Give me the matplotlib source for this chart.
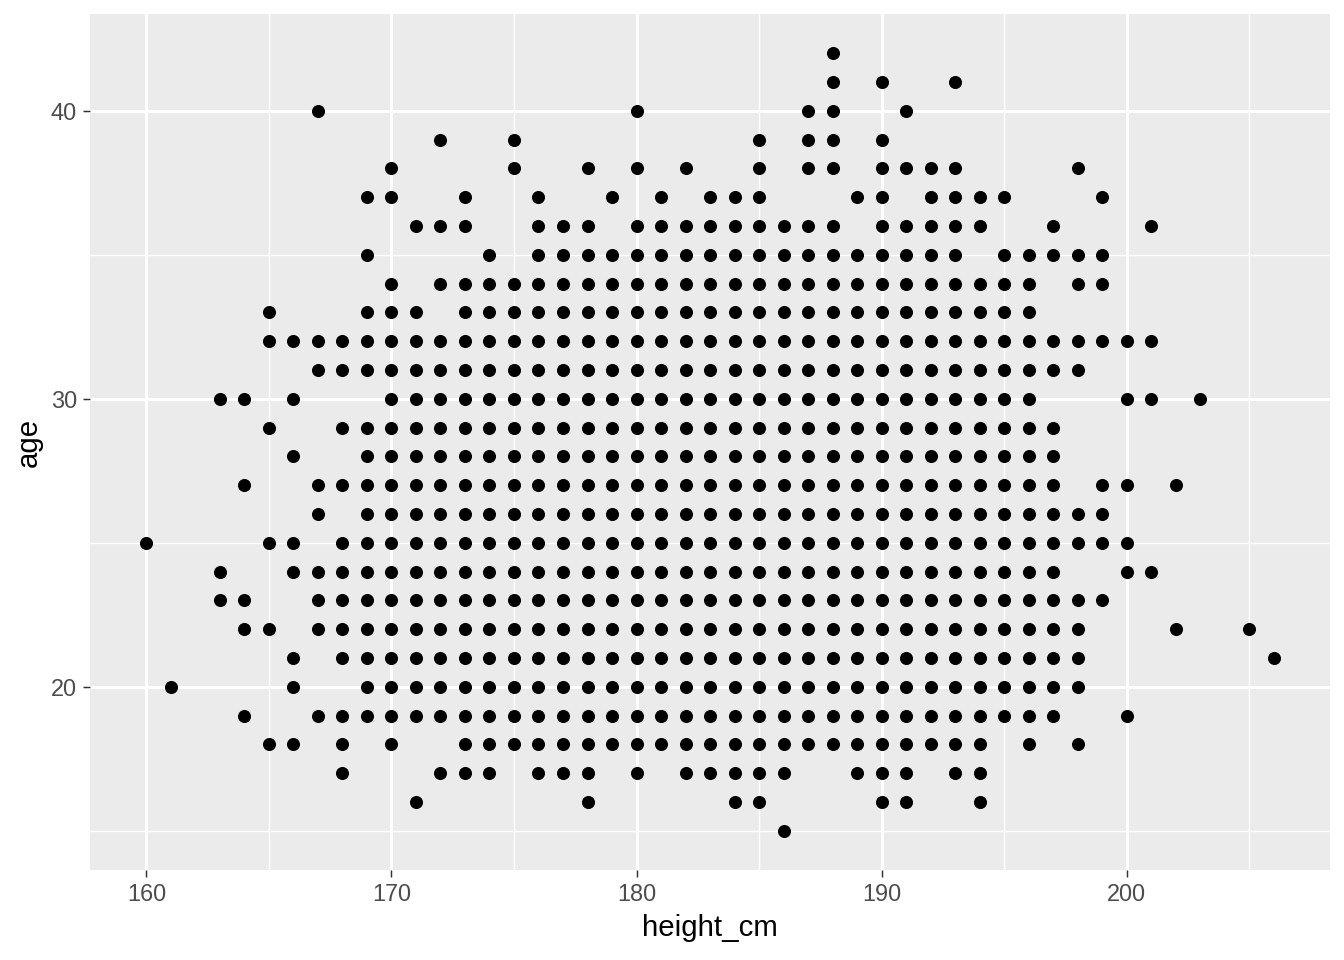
import matplotlib
matplotlib.use("Agg")
import matplotlib.pyplot as plt
from matplotlib.ticker import MultipleLocator

plt.rcParams["font.family"] = ["Liberation Sans", "DejaVu Sans"]

# heights present in each age row as (first, last) runs
age_rows = [42, 41, 40, 39, 38, 37, 36, 35, 34, 33, 32, 31, 30, 29,
            28, 27, 26, 25, 24, 23, 22, 21, 20, 19, 18, 17, 16, 15]
height_runs = [
    [(188, 188)],
    [(188, 188), (190, 190), (193, 193)],
    [(167, 167), (180, 180), (187, 188), (191, 191)],
    [(172, 172), (175, 175), (185, 185), (187, 188), (190, 190)],
    [(170, 170), (175, 175), (178, 178), (180, 180), (182, 182), (185, 185),
     (187, 188), (190, 193), (198, 198)],
    [(169, 170), (173, 173), (176, 176), (179, 179), (181, 181), (183, 185),
     (189, 190), (192, 195), (199, 199)],
    [(171, 173), (176, 178), (180, 188), (190, 194), (197, 197), (201, 201)],
    [(169, 169), (174, 174), (176, 193), (195, 199)],
    [(170, 170), (172, 196), (198, 199)],
    [(165, 165), (169, 171), (173, 196)],
    [(165, 201)],
    [(167, 198)],
    [(163, 164), (166, 166), (170, 196), (200, 201), (203, 203)],
    [(165, 165), (168, 197)],
    [(166, 166), (169, 197)],
    [(164, 164), (167, 197), (199, 200), (202, 202)],
    [(167, 167), (169, 199)],
    [(160, 160), (165, 166), (168, 200)],
    [(163, 163), (166, 197), (200, 201)],
    [(163, 164), (167, 199)],
    [(164, 165), (167, 198), (202, 202), (205, 205)],
    [(166, 166), (168, 198), (206, 206)],
    [(161, 161), (166, 166), (169, 198)],
    [(164, 164), (167, 197), (200, 200)],
    [(165, 166), (168, 168), (170, 170), (173, 194), (196, 196), (198, 198)],
    [(168, 168), (172, 174), (176, 178), (180, 180), (182, 186), (189, 191),
     (193, 194)],
    [(171, 171), (178, 178), (184, 185), (190, 191), (194, 194)],
    [(186, 186)],
]

height_cm = []
age = []
for a, runs in zip(age_rows, height_runs):
    for lo, hi in runs:
        for h in range(lo, hi + 1):
            height_cm.append(h)
            age.append(a)

fig = plt.figure(figsize=(7, 5), dpi=192)
ax = fig.add_axes([0.067, 0.094, 0.9226, 0.891])
ax.set_facecolor("#EBEBEB")

ax.scatter(height_cm, age, s=24, color="black", linewidths=0, zorder=3)

ax.set_xlim(157.7, 208.3)
ax.set_ylim(13.65, 43.35)
ax.xaxis.set_major_locator(MultipleLocator(10))
ax.xaxis.set_minor_locator(MultipleLocator(5))
ax.yaxis.set_major_locator(MultipleLocator(10))
ax.yaxis.set_minor_locator(MultipleLocator(5))

ax.grid(True, which="major", color="white", linewidth=1.1, zorder=0)
ax.grid(True, which="minor", color="white", linewidth=0.55, zorder=0)
ax.set_axisbelow(True)

for s in ax.spines.values():
    s.set_visible(False)

ax.tick_params(which="major", length=2.75, width=0.55, color="#333333",
               labelsize=8.8, labelcolor="#4D4D4D", pad=2.2)
ax.tick_params(which="minor", length=0)

ax.set_xlabel("height_cm", fontsize=11, color="black", labelpad=3)
ax.set_ylabel("age", fontsize=11, color="black", labelpad=3)

fig.savefig("out.png", dpi=192)
